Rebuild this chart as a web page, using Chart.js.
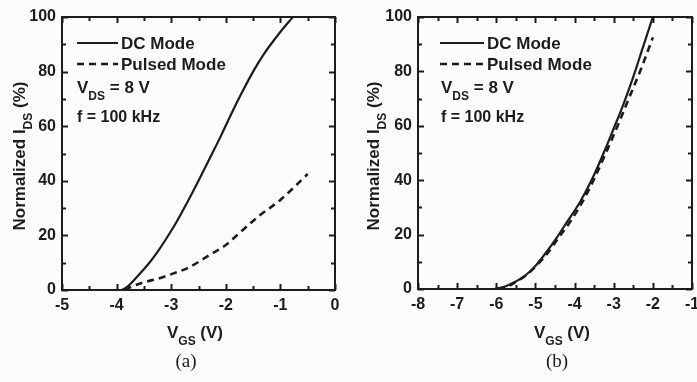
<!DOCTYPE html>
<html>
<head>
<meta charset="utf-8">
<script src="https://cdn.jsdelivr.net/npm/chart.js@4/dist/chart.umd.min.js"></script>
<style>
  html, body { margin: 0; padding: 0; background: #fcfcfc; }
  #wrap { position: relative; width: 697px; height: 382px; overflow: hidden; }
  canvas { position: absolute; top: 0; }
  #chartA { left: 0; }
  #chartB { left: 350px; }
</style>
</head>
<body>
<div id="wrap">
  <canvas id="chartA" width="348" height="382" style="width:348px;height:382px"></canvas>
  <canvas id="chartB" width="347" height="382" style="width:347px;height:382px"></canvas>
</div>
<script>
// Panel (a): normalized drain current vs gate voltage
const vgsDcA     = [-3.9, -3.8, -3.7, -3.55, -3.4, -3.25, -3.1, -2.9, -2.7, -2.5, -2.3, -2.1, -1.9, -1.7, -1.5, -1.3, -1.1, -0.95, -0.85, -0.77];
const idsDcA     = [0, 1.2, 3.2, 6.5, 10, 14, 18.5, 25, 32.3, 40, 48, 56, 64.5, 72.5, 80, 86.5, 92, 95.8, 98.2, 100];
const vgsPulsedA = [-3.85, -3.75, -3.5, -3.2, -2.9, -2.7, -2.3, -2.0, -1.8, -1.4, -1.0, -0.5];
const idsPulsedA = [0, 1, 2.8, 4.4, 6.5, 8, 12.8, 16.5, 20, 27, 33, 42.5];

// Panel (b)
const vgsDcB     = [-6.05, -5.8, -5.5, -5.3, -5.0, -4.75, -4.45, -4.2, -3.86, -3.5, -3.17, -3.0, -2.75, -2.5, -2.25, -2.0];
const idsDcB     = [0, 0.8, 2.8, 4.5, 8.5, 13, 19, 24.5, 32, 42, 53, 59, 68, 78, 89, 100];
const vgsPulsedB = [-5.95, -5.7, -5.5, -5.2, -5.0, -4.7, -4.4, -4.1, -3.8, -3.5, -3.2, -2.9, -2.6, -2.3, -2.0];
const idsPulsedB = [0, 1, 2.6, 5.5, 8.2, 13, 19, 25, 32, 40.5, 50, 60, 70.5, 81, 92.5];

// Axis ranges
const xRangeA = [-5, 0];
const xRangeB = [-8, -1];
const yRange  = [0, 100];
const seriesNames = ['DC Mode', 'Pulsed Mode'];
const noteLines = [
  [{ t: 'V' }, { t: 'DS', sub: true }, { t: ' = 8 V' }],
  [{ t: 'f = 100 kHz' }]
];
const yTitle = [{ t: 'Normalized I' }, { t: 'DS', sub: true }, { t: ' (%)' }];
const xTitle = [{ t: 'V' }, { t: 'GS', sub: true }, { t: ' (V)' }];

const INK = '#1c1c1c';
const SANS = '"Liberation Sans", Arial, sans-serif';

function pts(xs, ys) { return xs.map((x, i) => ({ x: x, y: ys[i] })); }

function richWidth(ctx, segs, size) {
  let w = 0;
  for (const s of segs) {
    ctx.font = 'bold ' + (s.sub ? Math.round(size * 0.72) : size) + 'px ' + SANS;
    w += ctx.measureText(s.t).width;
  }
  return w;
}
function drawRich(ctx, x, y, segs, size) {
  let cx = x;
  for (const s of segs) {
    const fs = s.sub ? Math.round(size * 0.72) : size;
    ctx.font = 'bold ' + fs + 'px ' + SANS;
    ctx.fillText(s.t, cx, s.sub ? y + size * 0.4 : y);
    cx += ctx.measureText(s.t).width;
  }
}

function panelPlugin(cfg) {
  return {
    id: 'panelDecor',
    afterDraw(chart) {
      const ctx = chart.ctx;
      const a = chart.chartArea;
      const xs = chart.scales.x, ys = chart.scales.y;
      ctx.save();
      ctx.setLineDash([]);
      ctx.strokeStyle = INK;
      ctx.fillStyle = INK;
      // frame
      ctx.lineWidth = 2;
      ctx.strokeRect(a.left, a.top, a.right - a.left, a.bottom - a.top);

      // inward major/minor ticks on all four sides
      ctx.lineWidth = 2;
      const nx = Math.round((cfg.xRange[1] - cfg.xRange[0]) * 2);
      for (let k = 0; k <= nx; k++) {
        const v = cfg.xRange[0] + k * 0.5;
        const p = Math.round(xs.getPixelForValue(v)) + 0.5;
        const len = k % 2 === 0 ? 6 : 4;
        ctx.beginPath();
        ctx.moveTo(p, a.bottom); ctx.lineTo(p, a.bottom - len);
        ctx.moveTo(p, a.top); ctx.lineTo(p, a.top + len);
        ctx.stroke();
      }
      for (let k = 0; k <= 10; k++) {
        const v = yRange[0] + k * 10;
        const p = Math.round(ys.getPixelForValue(v)) + 0.5;
        const len = k % 2 === 0 ? 6 : 4;
        ctx.beginPath();
        ctx.moveTo(a.left, p); ctx.lineTo(a.left + len, p);
        ctx.moveTo(a.right, p); ctx.lineTo(a.right - len, p);
        ctx.stroke();
      }

      // legend
      ctx.textBaseline = 'alphabetic';
      ctx.textAlign = 'left';
      chart.data.datasets.forEach((ds, i) => {
        const y = cfg.legendY[i];
        ctx.save();
        ctx.lineWidth = ds.borderWidth;
        ctx.setLineDash(ds.borderDash || []);
        ctx.beginPath();
        ctx.moveTo(cfg.legendX0, y);
        ctx.lineTo(cfg.legendX1, y);
        ctx.stroke();
        ctx.restore();
        ctx.font = 'bold 17px ' + SANS;
        ctx.fillText(ds.label, cfg.legendX1 + 3, y + 6);
      });
      // measurement conditions
      drawRich(ctx, cfg.noteX, cfg.noteY[0], noteLines[0], 17);
      drawRich(ctx, cfg.noteX, cfg.noteY[1], noteLines[1], 16);

      // y title (rotated)
      ctx.save();
      ctx.translate(cfg.yTitleX, cfg.yTitleY);
      ctx.rotate(-Math.PI / 2);
      const wy = richWidth(ctx, yTitle, 17);
      drawRich(ctx, -wy / 2, 6, yTitle, 17);
      ctx.restore();

      // x title
      const wx = richWidth(ctx, xTitle, 17);
      drawRich(ctx, cfg.xTitleX - wx / 2, cfg.xTitleY, xTitle, 17);

      // panel caption
      ctx.font = '19px "Liberation Serif", "Times New Roman", serif';
      ctx.textAlign = 'center';
      ctx.fillText(cfg.caption, cfg.captionX, cfg.captionY);
      ctx.restore();
    }
  };
}

function makePanel(id, xRange, dc, pulsed, geom) {
  const tickFont = { family: SANS, size: 16, weight: 'bold' };
  geom.xRange = xRange;
  return new Chart(document.getElementById(id), {
    type: 'scatter',
    data: {
      datasets: [
        { label: seriesNames[0], data: pts(dc[0], dc[1]), showLine: true, borderColor: INK,
          borderWidth: 2.2, pointRadius: 0, cubicInterpolationMode: 'monotone' },
        { label: seriesNames[1], data: pts(pulsed[0], pulsed[1]), showLine: true, borderColor: INK,
          borderWidth: 2.6, borderDash: [7, 5], pointRadius: 0, cubicInterpolationMode: 'monotone' }
      ]
    },
    options: {
      responsive: false,
      animation: false,
      events: [],
      layout: { autoPadding: false, padding: { top: geom.top, right: geom.right, left: 0, bottom: 0 } },
      plugins: { legend: { display: false }, tooltip: { enabled: false } },
      scales: {
        x: {
          type: 'linear', min: xRange[0], max: xRange[1],
          grid: { display: false, drawTicks: false }, border: { display: false },
          ticks: { stepSize: 1, color: INK, font: tickFont, padding: 6, maxRotation: 0, autoSkip: false },
          afterFit(s) { s.height = geom.xHeight; s.paddingLeft = 0; s.paddingRight = 0; }
        },
        y: {
          type: 'linear', min: yRange[0], max: yRange[1],
          grid: { display: false, drawTicks: false }, border: { display: false },
          ticks: { stepSize: 20, color: INK, font: tickFont, padding: 6 },
          afterFit(s) { s.width = geom.yWidth; s.paddingTop = 0; s.paddingBottom = 0; }
        }
      }
    },
    plugins: [panelPlugin(geom)]
  });
}

makePanel('chartA', xRangeA, [vgsDcA, idsDcA], [vgsPulsedA, idsPulsedA], {
  top: 17, right: 13, xHeight: 92, yWidth: 62,
  legendX0: 77, legendX1: 118, legendY: [43, 64],
  noteX: 77, noteY: [93, 122],
  yTitleX: 19, yTitleY: 156,
  xTitleX: 195, xTitleY: 338,
  caption: '(a)', captionX: 186, captionY: 367
});

makePanel('chartB', xRangeB, [vgsDcB, idsDcB], [vgsPulsedB, idsPulsedB], {
  top: 17, right: 5, xHeight: 93, yWidth: 68,
  legendX0: 90, legendX1: 134, legendY: [43, 64],
  noteX: 91, noteY: [93, 122],
  yTitleX: 23, yTitleY: 156,
  xTitleX: 212, xTitleY: 338,
  caption: '(b)', captionX: 207, captionY: 367
});
</script>
</body>
</html>
